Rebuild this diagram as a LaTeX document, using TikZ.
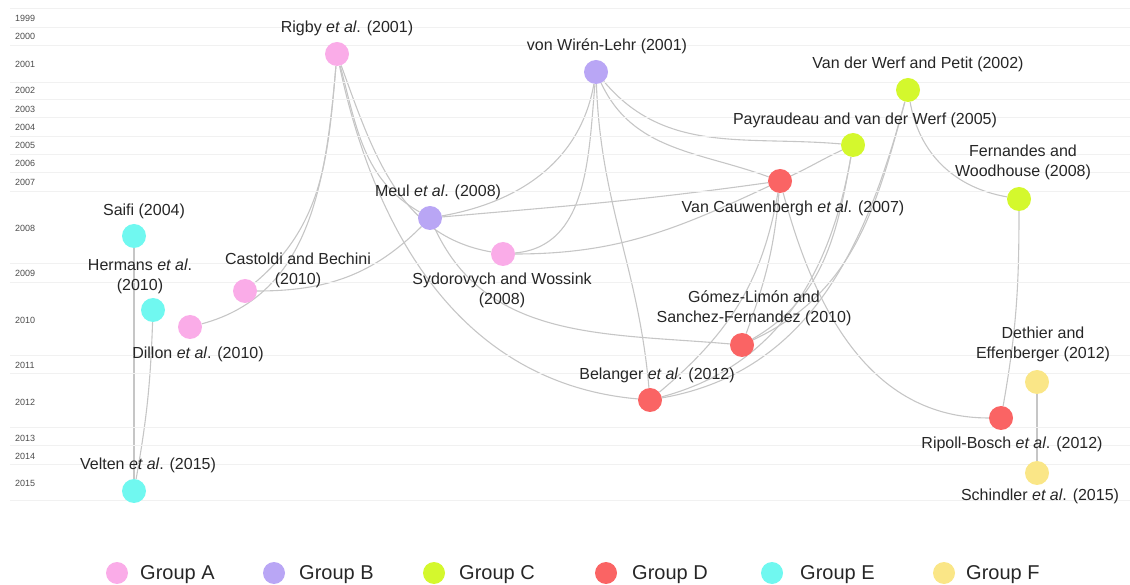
\documentclass[tikz,border=0pt]{standalone}
\usepackage{fontspec}
\setmainfont{Liberation Sans}
\pgfdeclarelayer{background}
\pgfsetlayers{background,main}
\definecolor{grpA}{RGB}{250,172,232}
\definecolor{grpB}{RGB}{185,166,245}
\definecolor{grpC}{RGB}{212,248,45}
\definecolor{grpD}{RGB}{250,100,100}
\definecolor{grpE}{RGB}{112,248,240}
\definecolor{grpF}{RGB}{250,230,135}
\definecolor{edgegray}{RGB}{198,198,198}
\definecolor{bandgray}{RGB}{241,241,241}
\begin{document}
\begin{tikzpicture}[x=1pt,y=1pt,
  paper/.style={circle,inner sep=0pt,minimum size=24pt,fill=#1},
  lbl/.style={font=\fontsize{16}{20}\selectfont,align=center,inner sep=0pt,text=black!85},
  yr/.style={font=\fontsize{9}{10}\selectfont,anchor=west,inner sep=0pt,text=black!70},
  band/.style={draw=bandgray,line width=0.8pt},
  edge/.style={draw=edgegray,line width=1.1pt},
  leg/.style={font=\fontsize{20}{22}\selectfont,anchor=west,inner sep=0pt,text=black!85}]
\useasboundingbox (0,0) rectangle (1130,584);
% year bands
\foreach \yy in {576,557,539,502,485,467,448,430,412,393,321,302,229,211,157,139,120,84}
  \draw[band] (10,\yy) -- (1130,\yy);
\node[yr] (y1999) at (15,566) {1999};
\node[yr] (y2000) at (15,548) {2000};
\node[yr] (y2001) at (15,520) {2001};
\node[yr] (y2002) at (15,494) {2002};
\node[yr] (y2003) at (15,475) {2003};
\node[yr] (y2004) at (15,457) {2004};
\node[yr] (y2005) at (15,439) {2005};
\node[yr] (y2006) at (15,421) {2006};
\node[yr] (y2007) at (15,402) {2007};
\node[yr] (y2008) at (15,356) {2008};
\node[yr] (y2009) at (15,311) {2009};
\node[yr] (y2010) at (15,264) {2010};
\node[yr] (y2011) at (15,219) {2011};
\node[yr] (y2012) at (15,182) {2012};
\node[yr] (y2013) at (15,146) {2013};
\node[yr] (y2014) at (15,128) {2014};
\node[yr] (y2015) at (15,101) {2015};
% papers
\node[paper=grpA] (rig) at (337,530) {};
\node[paper=grpB] (vonw) at (596,512) {};
\node[paper=grpC] (vdw) at (908,494) {};
\node[paper=grpC] (pay) at (853,439) {};
\node[paper=grpD] (vc) at (780,403) {};
\node[paper=grpC] (fer) at (1019,385) {};
\node[paper=grpB] (meu) at (430,366) {};
\node[paper=grpA] (syd) at (503,330) {};
\node[paper=grpE] (sai) at (134,348) {};
\node[paper=grpE] (her) at (153,274) {};
\node[paper=grpA] (cas) at (245,293) {};
\node[paper=grpA] (dil) at (190,257) {};
\node[paper=grpD] (gl) at (742,239) {};
\node[paper=grpD] (bel) at (650,184) {};
\node[paper=grpD] (rip) at (1001,166) {};
\node[paper=grpF] (det) at (1037,202) {};
\node[paper=grpF] (sch) at (1037,111) {};
\node[paper=grpE] (vel) at (134,93) {};
% labels
\node[lbl] (rigL) at (347,556) {Rigby \textit{et al}. (2001)};
\node[lbl] (vonwL) at (607,538) {von Wirén-Lehr (2001)};
\node[lbl] (vdwL) at (918,520) {Van der Werf and Petit (2002)};
\node[lbl] (payL) at (865,464) {Payraudeau and van der Werf (2005)};
\node[lbl] (vcL) at (793,376) {Van Cauwenbergh \textit{et al}. (2007)};
\node[lbl] (ferL) at (1023,422) {Fernandes and\\Woodhouse (2008)};
\node[lbl] (meuL) at (438,392) {Meul \textit{et al}. (2008)};
\node[lbl] (sydL) at (502,294) {Sydorovych and Wossink\\(2008)};
\node[lbl] (saiL) at (144,373) {Saifi (2004)};
\node[lbl] (herL) at (140,308) {Hermans \textit{et al}.\\(2010)};
\node[lbl] (casL) at (298,314) {Castoldi and Bechini\\(2010)};
\node[lbl] (dilL) at (198,230) {Dillon \textit{et al}. (2010)};
\node[lbl] (glL) at (754,276) {Gómez-Limón and\\Sanchez-Fernandez (2010)};
\node[lbl] (belL) at (657,209) {Belanger \textit{et al}. (2012)};
\node[lbl] (ripL) at (1012,140) {Ripoll-Bosch \textit{et al}. (2012)};
\node[lbl] (detL) at (1043,240) {Dethier and\\Effenberger (2012)};
\node[lbl] (schL) at (1040,88) {Schindler \textit{et al}. (2015)};
\node[lbl] (velL) at (148,119) {Velten \textit{et al}. (2015)};
% edges
\begin{pgfonlayer}{background}
\draw[edge] (rig) to[out=-95,in=40] (cas);
\draw[edge] (rig) to[out=-95,in=15] (dil);
\draw[edge] (rig) to[out=-75,in=150] (meu);
\draw[edge] (rig) to[out=-70,in=170] (syd);
\draw[edge] (rig) to[out=-78,in=175] (bel);
\draw[edge] (meu) to[out=-65,in=175] (gl);
\draw[edge] (cas) to[out=0,in=-135] (meu);
\draw[edge] (vonw) to[out=-100,in=10] (meu);
\draw[edge] (vonw) to[out=-95,in=5] (syd);
\draw[edge] (vonw) to[out=-88,in=95] (bel);
\draw[edge] (vonw) to[out=-50,in=175] (pay);
\draw[edge] (vonw) to[out=-65,in=160] (vc);
\draw[edge] (meu) to[out=5,in=-172] (vc);
\draw[edge] (syd) to[out=0,in=-155] (vc);
\draw[edge] (vc) to[out=25,in=-155] (pay);
\draw[edge] (pay) to[out=-100,in=30] (gl);
\draw[edge] (pay) to[out=-100,in=15] (bel);
\draw[edge] (vdw) to[out=-105,in=25] (gl);
\draw[edge] (vdw) to[out=-105,in=10] (bel);
\draw[edge] (vc) to[out=-95,in=70] (gl);
\draw[edge] (vc) to[out=-100,in=40] (bel);
\draw[edge] (vc) to[out=-75,in=180] (rip);
\draw[edge] (vdw) to[out=-80,in=170] (fer);
\draw[edge] (fer) to[out=-90,in=80] (rip);
\draw[edge] (det) -- (sch);
\draw[edge] (sai) -- (vel);
\draw[edge] (her) to[out=-92,in=80] (vel);
\end{pgfonlayer}
% legend
\node[paper=grpA,minimum size=22pt] (lA) at (117,11) {};
\node[leg] (lAt) at (140,9) {Group A};
\node[paper=grpB,minimum size=22pt] (lB) at (274,11) {};
\node[leg] (lBt) at (299,9) {Group B};
\node[paper=grpC,minimum size=22pt] (lC) at (434,11) {};
\node[leg] (lCt) at (459,9) {Group C};
\node[paper=grpD,minimum size=22pt] (lD) at (606,11) {};
\node[leg] (lDt) at (632,9) {Group D};
\node[paper=grpE,minimum size=22pt] (lE) at (772,11) {};
\node[leg] (lEt) at (800,9) {Group E};
\node[paper=grpF,minimum size=22pt] (lF) at (944,11) {};
\node[leg] (lFt) at (966,9) {Group F};
\end{tikzpicture}
\end{document}
